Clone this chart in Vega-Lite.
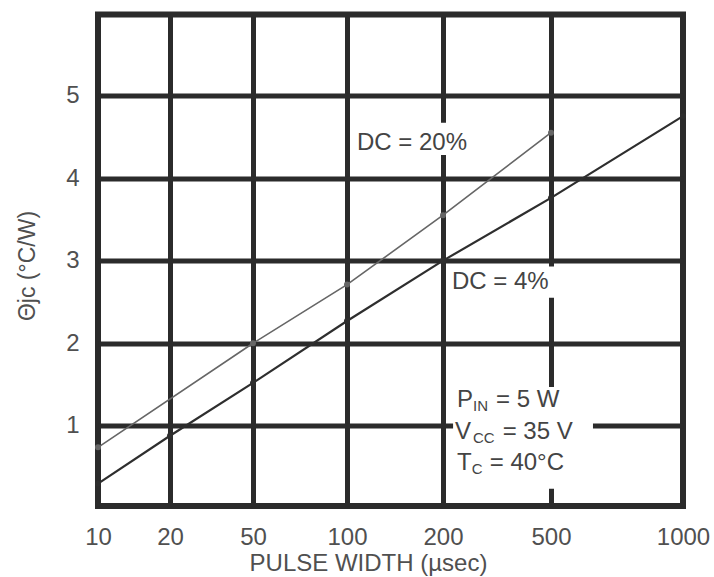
{
  "$schema": "https://vega.github.io/schema/vega-lite/v6.json",
  "width": 585,
  "height": 491.5,
  "autosize": {"type": "none"},
  "padding": {"left": 98, "top": 14.5, "right": 31, "bottom": 71},
  "background": "white",
  "config": {
    "view": {"stroke": "#2b2b2b", "strokeWidth": 6},
    "font": "Liberation Sans"
  },
  "datasets": {
    "curves": [
      {"dc": "DC = 20%", "pw": 10, "theta": 0.74},
      {"dc": "DC = 20%", "pw": 50, "theta": 2.0},
      {"dc": "DC = 20%", "pw": 100, "theta": 2.71},
      {"dc": "DC = 20%", "pw": 200, "theta": 3.55},
      {"dc": "DC = 20%", "pw": 500, "theta": 4.55},
      {"dc": "DC = 4%", "pw": 10, "theta": 0.30},
      {"dc": "DC = 4%", "pw": 20, "theta": 0.88},
      {"dc": "DC = 4%", "pw": 50, "theta": 1.52},
      {"dc": "DC = 4%", "pw": 100, "theta": 2.27},
      {"dc": "DC = 4%", "pw": 200, "theta": 3.0},
      {"dc": "DC = 4%", "pw": 500, "theta": 3.76},
      {"dc": "DC = 4%", "pw": 1000, "theta": 4.75}
    ],
    "boxes": [
      {"pw": 105, "pw2": 289, "theta": 4.28, "theta2": 4.67},
      {"pw": 216, "pw2": 534, "theta": 2.55, "theta2": 2.93},
      {"pw": 228, "pw2": 659, "theta": 0.24, "theta2": 1.47}
    ],
    "notes": [
      {"text": "DC = 20%", "pw": 110.4, "theta": 4.43, "kind": "main"},
      {"text": "DC = 4%", "pw": 225, "theta": 2.74, "kind": "main"},
      {"text": "P", "pw": 238.9, "theta": 1.31, "kind": "main"},
      {"text": "IN", "pw": 283.3, "theta": 1.31, "kind": "sub"},
      {"text": "= 5 W", "pw": 347.2, "theta": 1.31, "kind": "main"},
      {"text": "V", "pw": 233.3, "theta": 0.92, "kind": "main"},
      {"text": "CC", "pw": 283.3, "theta": 0.92, "kind": "sub"},
      {"text": "= 35 V", "pw": 365.8, "theta": 0.92, "kind": "main"},
      {"text": "T", "pw": 238.9, "theta": 0.55, "kind": "main"},
      {"text": "C", "pw": 279.7, "theta": 0.55, "kind": "sub"},
      {"text": "= 40°C", "pw": 329.7, "theta": 0.55, "kind": "main"}
    ]
  },
  "encoding": {
    "x": {
      "field": "pw",
      "type": "quantitative",
      "scale": {
        "type": "linear",
        "domain": [10, 20, 50, 100, 200, 500, 1000],
        "range": [0, 72, 155, 249, 345, 453, 585],
        "nice": false,
        "zero": false
      },
      "axis": {
        "values": [10, 20, 50, 100, 200, 500, 1000],
        "format": "d",
        "grid": true,
        "gridColor": "#2b2b2b",
        "gridWidth": 5,
        "gridOpacity": 1,
        "domain": false,
        "ticks": false,
        "labelFont": "Liberation Sans",
        "labelFontSize": 24,
        "labelColor": "#505050",
        "labelPadding": 19,
        "labelFlush": false,
        "labelOverlap": false,
        "title": "PULSE WIDTH (µsec)",
        "titleFont": "Liberation Sans",
        "titleFontSize": 24,
        "titleFontWeight": "normal",
        "titleColor": "#505050",
        "titleX": 270,
        "titleY": 57,
        "titleAlign": "center",
        "titleBaseline": "middle"
      }
    },
    "y": {
      "field": "theta",
      "type": "quantitative",
      "scale": {"domain": [0.03, 5.98], "nice": false, "zero": false},
      "axis": {
        "values": [1, 2, 3, 4, 5],
        "grid": true,
        "gridColor": "#2b2b2b",
        "gridWidth": 5,
        "gridOpacity": 1,
        "domain": false,
        "ticks": false,
        "labelFont": "Liberation Sans",
        "labelFontSize": 24,
        "labelColor": "#505050",
        "labelPadding": 19,
        "labelFlush": false,
        "labelOverlap": false,
        "title": "Θjc (°C/W)",
        "titleFont": "Liberation Sans",
        "titleFontSize": 23,
        "titleFontWeight": "normal",
        "titleColor": "#505050",
        "titleAngle": -90,
        "titleX": -71,
        "titleY": 251,
        "titleAlign": "center",
        "titleBaseline": "middle"
      }
    }
  },
  "layer": [
    {
      "data": {"name": "boxes"},
      "mark": {"type": "rect", "color": "white", "opacity": 1},
      "encoding": {
        "x2": {"field": "pw2"},
        "y2": {"field": "theta2"}
      }
    },
    {
      "data": {"name": "curves"},
      "mark": {"type": "line"},
      "encoding": {
        "color": {
          "field": "dc",
          "type": "nominal",
          "scale": {"domain": ["DC = 20%", "DC = 4%"], "range": ["#666666", "#2e2e2e"]},
          "legend": null
        },
        "strokeWidth": {
          "field": "dc",
          "type": "nominal",
          "scale": {"domain": ["DC = 20%", "DC = 4%"], "range": [1.6, 2.2]},
          "legend": null
        }
      }
    },
    {
      "data": {"name": "curves"},
      "mark": {"type": "point", "filled": true, "size": 36, "opacity": 1},
      "encoding": {
        "color": {
          "field": "dc",
          "type": "nominal",
          "scale": {"domain": ["DC = 20%", "DC = 4%"], "range": ["#666666", "#2e2e2e"]},
          "legend": null
        }
      }
    },
    {
      "data": {"name": "notes"},
      "transform": [{"filter": "datum.kind === 'main'"}],
      "mark": {"type": "text", "align": "left", "baseline": "middle", "fontSize": 24, "font": "Liberation Sans", "color": "#444444"},
      "encoding": {"text": {"field": "text"}}
    },
    {
      "data": {"name": "notes"},
      "transform": [{"filter": "datum.kind === 'sub'"}],
      "mark": {"type": "text", "align": "left", "baseline": "middle", "fontSize": 15, "dy": 6, "font": "Liberation Sans", "color": "#444444"},
      "encoding": {"text": {"field": "text"}}
    }
  ]
}
